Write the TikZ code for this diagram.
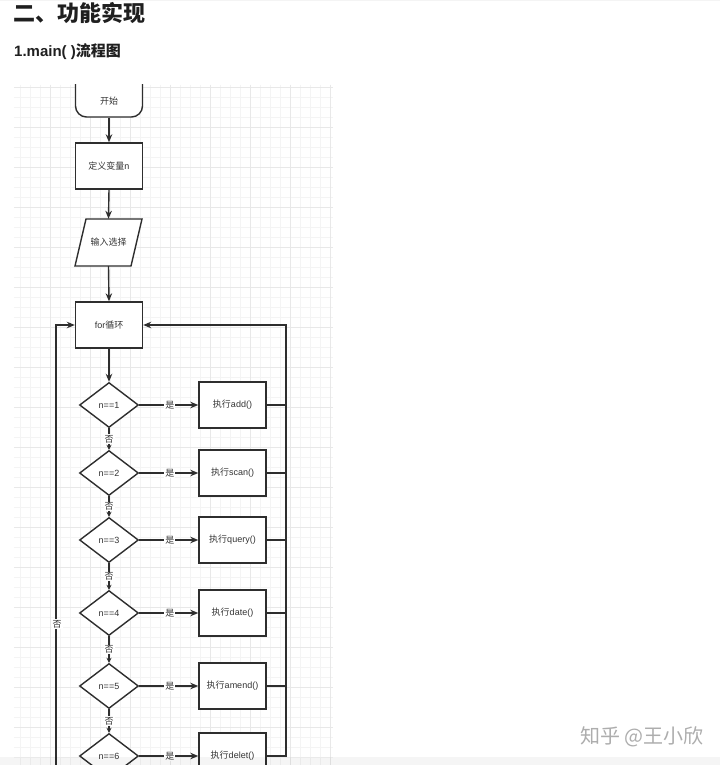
\documentclass[tikz,border=0pt]{standalone}
\usepackage{fontspec}
\setmainfont{Liberation Sans}
\newfontfamily\cjk{Noto Sans CJK SC}
\newcommand\zhs[1]{{\cjk #1}}
\usetikzlibrary{shapes.geometric,arrows.meta}
\definecolor{ln}{HTML}{2E2E2E}
\definecolor{tx}{HTML}{333333}
\definecolor{tt}{HTML}{1F1F1F}
\definecolor{gminor}{HTML}{F4F4F4}
\definecolor{gmajor}{HTML}{E8E8E8}
\begin{document}
\begin{tikzpicture}[x=1pt,y=-1pt,
  flow/.style={draw=ln, line width=1.4pt, fill=white, inner sep=0pt, text=tx,
    font=\fontsize{9}{9}\selectfont},
  box/.style={flow, rectangle, minimum width=67pt, minimum height=46pt},
  dia/.style={flow, diamond, aspect=1.31, minimum width=59pt, minimum height=45pt},
  conn/.style={draw=ln, line width=1.4pt},
  arr/.style={conn, -{Stealth[length=8pt,width=6.5pt]}},
  sarr/.style={conn, -{Stealth[length=5pt,width=5pt]}},
  lab/.style={fill=white, inner sep=1pt, text=tx, font=\cjk\fontsize{9}{9}\selectfont}]
\useasboundingbox (0,0) rectangle (720,765);
\fill[white] (0,0) rectangle (720,765);
\draw[gminor, line width=1pt] (0,1) -- (720,1);
% grid
\begin{scope}
\clip (14,85) rectangle (333,765);
\foreach \x in {10,20,...,340} \draw[gminor, line width=0.6pt] (\x,85) -- (\x,765);
\foreach \y in {87,97,...,767} \draw[gminor, line width=0.6pt] (14,\y) -- (333,\y);
\foreach \x in {50,90,...,330} \draw[gmajor, line width=0.8pt] (\x,85) -- (\x,765);
\foreach \y in {87,127,...,767} \draw[gmajor, line width=0.8pt] (14,\y) -- (333,\y);
\end{scope}
% titles
\node[anchor=west, inner sep=0pt, text=tt, font=\cjk\bfseries\fontsize{22}{22}\selectfont] (title) at (13,13) {二、功能实现};
\node[anchor=west, inner sep=0pt, text=tt, font=\bfseries\fontsize{15}{15}\selectfont] (sub) at (14,52) {1.main( )\zhs{流程图}};
% start terminator (clipped at top)
\begin{scope}
\clip (0,85) rectangle (720,765);
\node[flow, rectangle, rounded corners=11pt, minimum width=67pt, minimum height=46pt] (start) at (109,94) {};
\end{scope}
\node[inner sep=0pt, text=tx, font=\cjk\fontsize{9}{9}\selectfont] (startlbl) at (109,101) {开始};
\node[box] (def) at (109,166) {\zhs{定义变量}n};
% input parallelogram
\node[inner sep=0pt, minimum width=56pt, minimum height=47pt] (inp) at (108.5,242.5) {};
\draw[conn, fill=white] (86,219) -- (142,219) -- (131,266) -- (75,266) -- cycle;
\node[inner sep=0pt, text=tx, font=\cjk\fontsize{9}{9}\selectfont] (inplbl) at (inp) {输入选择};
\node[box] (for) at (109,325) {for\zhs{循环}};
% decisions and actions
\node[dia] (d1) at (109,405) {n==1};
\node[dia] (d2) at (109,473) {n==2};
\node[dia] (d3) at (109,540) {n==3};
\node[dia] (d4) at (109,613) {n==4};
\node[dia] (d5) at (109,686) {n==5};
\node[dia] (d6) at (109,756) {n==6};
\node[box] (b1) at (232.5,405) {\zhs{执行}add()};
\node[box] (b2) at (232.5,473) {\zhs{执行}scan()};
\node[box] (b3) at (232.5,540) {\zhs{执行}query()};
\node[box] (b4) at (232.5,613) {\zhs{执行}date()};
\node[box] (b5) at (232.5,686) {\zhs{执行}amend()};
\node[box] (b6) at (232.5,756) {\zhs{执行}delet()};
% main flow
\draw[arr] (start.south) -- (def.north);
\draw[arr] (def.south) -- (inp.north);
\draw[arr] (inp.south) -- (for.north);
\draw[arr] (for.south) -- (d1.north);
% yes branches
\foreach \i in {1,...,6} {
  \draw[arr] (d\i.east) -- (b\i.west) node[lab, pos=0.52] (yes\i) {是};
}
% no branches
\foreach \i/\j in {1/2,2/3,3/4,4/5,5/6} {
  \draw[sarr] (d\i.south) -- (d\j.north) node[lab, midway] (no\i) {否};
}
% right return loop
\coordinate (rtop) at (286,325);
\coordinate (rbot) at (286,756);
\foreach \i in {1,...,5} { \draw[conn] (b\i.east) -- (b\i.east -| rtop); }
\draw[arr] (b6.east) -- (rbot) -- (rtop) -- (for.east);
% left return loop
\coordinate (lbot) at (56,775);
\coordinate (ltop) at (56,325);
\draw[arr] (lbot) -- (ltop) -- (for.west);
\node[lab] (no6) at (57,624) {否};
% bottom band
\fill[black, opacity=0.04] (0,757) rectangle (720,765);
% watermark
\node[anchor=east, inner sep=0pt, text=black!32, font=\cjk\fontsize{20}{20}\selectfont] (wm) at (704,737) {知乎 @王小欣};
\end{tikzpicture}
\end{document}
